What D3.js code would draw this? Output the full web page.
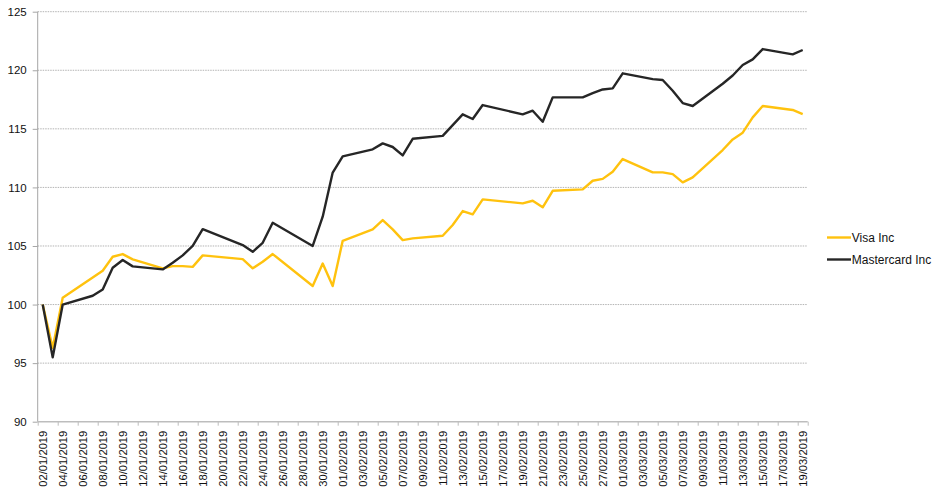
<!DOCTYPE html>
<html>
<head>
<meta charset="utf-8">
<script src="https://cdn.jsdelivr.net/npm/d3@7"></script>
<style>
  html, body { margin: 0; padding: 0; background: #fff; }
  svg { display: block; font-family: "Liberation Sans", Arial, sans-serif; }
</style>
</head>
<body>
<svg id="chart" width="945" height="497"></svg>
<script>
const dates = [
  "02/01/2019","03/01/2019","04/01/2019","07/01/2019","08/01/2019","09/01/2019","10/01/2019","11/01/2019",
  "14/01/2019","15/01/2019","16/01/2019","17/01/2019","18/01/2019","22/01/2019","23/01/2019","24/01/2019",
  "25/01/2019","29/01/2019","30/01/2019","31/01/2019",
  "01/02/2019","04/02/2019","05/02/2019","06/02/2019","07/02/2019","08/02/2019","11/02/2019","12/02/2019",
  "13/02/2019","14/02/2019","15/02/2019","19/02/2019","20/02/2019","21/02/2019","22/02/2019","25/02/2019",
  "26/02/2019","27/02/2019","28/02/2019",
  "01/03/2019","04/03/2019","05/03/2019","06/03/2019","07/03/2019","08/03/2019","11/03/2019","12/03/2019",
  "13/03/2019","14/03/2019","15/03/2019","18/03/2019","19/03/2019"
];
const visa = [
  100, 96.3, 100.58, 102.3, 102.88, 104.08, 104.31, 103.86,
  103.09, 103.28, 103.28, 103.22, 104.2, 103.88, 103.09, 103.65,
  104.31, 101.58, 103.5, 101.58,
  105.44, 106.42, 107.21, 106.42, 105.5, 105.65, 105.87, 106.79,
  107.98, 107.7, 108.98, 108.64, 108.86, 108.3, 109.71, 109.83,
  110.57, 110.73, 111.34,
  112.42, 111.28, 111.28, 111.14, 110.43, 110.86, 113.19, 114.1,
  114.67, 115.98, 116.95, 116.61, 116.26
];
const mastercard = [
  100, 95.49, 100, 100.75, 101.29, 103.14, 103.8, 103.26,
  103.0, 103.57, 104.2, 105.0, 106.44, 105.08, 104.5, 105.27,
  106.98, 105.0, 107.5, 111.27,
  112.65, 113.25, 113.76, 113.45, 112.73, 114.15, 114.4, 115.32,
  116.24, 115.84, 117.03, 116.24, 116.55, 115.6, 117.69, 117.69,
  118.05, 118.36, 118.45,
  119.74, 119.24, 119.17, 118.25, 117.2, 116.95, 118.85, 119.55,
  120.45, 120.93, 121.81, 121.36, 121.73
];
const seriesNames = ["Visa Inc", "Mastercard Inc"];
const seriesColors = ["#FFC20E", "#262626"];
const yTicks = [90, 95, 100, 105, 110, 115, 120, 125];
const xStart = "02/01/2019";
const xEnd = "19/03/2019";

(function () {
const parse = d3.utcParse("%d/%m/%Y");
const fmt = d3.utcFormat("%d/%m/%Y");
const DAY = 864e5;

const svg = d3.select("#chart");
const pLeft = 37.7, pRight = 807.7, pTop = 11.7, pBottom = 421.7;

const d0 = parse(xStart), d1 = new Date(parse(xEnd).getTime() + DAY);
const x = d3.scaleUtc().domain([d0, d1]).range([pLeft, pRight]);
const y = d3.scaleLinear().domain([90, 125]).range([pBottom, pTop]);

// gridlines
svg.append("g").selectAll("line").data(yTicks.filter(v => v > 90)).join("line")
  .attr("x1", pLeft).attr("x2", pRight)
  .attr("y1", d => y(d)).attr("y2", d => y(d))
  .attr("stroke", "#b4b4b4").attr("stroke-width", 1)
  .attr("stroke-dasharray", "1.5,1");

// y axis
const yAxis = d3.axisLeft(y).tickValues(yTicks).tickSize(5).tickPadding(6).tickFormat(d3.format("d"));
const gy = svg.append("g").attr("transform", `translate(${pLeft},0)`).call(yAxis);
gy.select(".domain").attr("stroke", "#a6a6a6").attr("d", `M0,${pTop}V${pBottom}`);
gy.selectAll(".tick line").attr("stroke", "#a6a6a6");
gy.selectAll("text").attr("font-size", "11.5px").attr("fill", "#111").attr("font-family", "Liberation Sans, Arial, sans-serif");

// x axis: tick marks at category boundaries every 2 days
const boundaries = d3.utcDay.range(d0, d1, 1).filter((d, i) => i % 2 === 0);
boundaries.push(d1);
const xTickAxis = d3.axisBottom(x).tickValues(boundaries).tickSize(4).tickFormat("");
const gx = svg.append("g").attr("transform", `translate(0,${pBottom})`).call(xTickAxis);
gx.select(".domain").attr("stroke", "#bdbdbd").attr("stroke-width", 1.5).attr("d", `M${pLeft},0H${pRight}`);
gx.selectAll(".tick line").attr("stroke", "#bdbdbd");

// x labels at category centres
const labelDates = d3.utcDay.range(d0, d1, 1).filter((d, i) => i % 2 === 0).map(d => new Date(d.getTime() + DAY / 2));
const xLabelAxis = d3.axisBottom(x).tickValues(labelDates).tickSize(0).tickFormat(d => fmt(d));
const gxl = svg.append("g").attr("transform", `translate(0,${pBottom})`).call(xLabelAxis);
gxl.select(".domain").remove();
gxl.selectAll("text")
  .attr("font-size", "11.2px").attr("fill", "#111").attr("font-family", "Liberation Sans, Arial, sans-serif")
  .attr("text-anchor", "end")
  .attr("transform", "rotate(-90)")
  .attr("x", -9).attr("y", 0).attr("dy", "0.35em");

// lines
const pts = dates.map(d => new Date(parse(d).getTime() + DAY / 2));
const line = d3.line().x((d, i) => x(pts[i])).y(d => y(d));
[visa, mastercard].forEach((vals, k) => {
  svg.append("path").datum(vals)
    .attr("fill", "none").attr("stroke", seriesColors[k])
    .attr("stroke-width", 2.4).attr("stroke-linejoin", "round")
    .attr("d", line);
});

// legend
const lg = svg.append("g");
seriesNames.forEach((name, k) => {
  const cy = 237.5 + k * 22;
  lg.append("line").attr("x1", 827).attr("x2", 851).attr("y1", cy).attr("y2", cy)
    .attr("stroke", seriesColors[k]).attr("stroke-width", 2.4);
  lg.append("text").attr("x", 851.8).attr("y", cy).attr("dy", "0.36em")
    .attr("font-size", "12px").attr("fill", "#111").text(name);
});
})();
</script>
</body>
</html>
